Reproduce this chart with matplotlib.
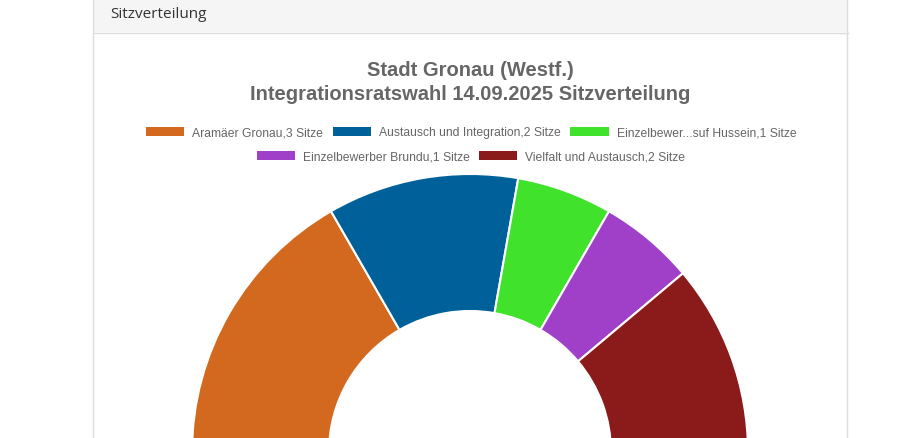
import numpy as np
import matplotlib
matplotlib.use("Agg")
import matplotlib.pyplot as plt
from matplotlib.patches import Rectangle
from matplotlib.lines import Line2D

# ── Daten ─────────────────────────────────────────────────────────────────────
parteien = ["Aramäer Gronau", "Austausch und Integration", "Einzelbewer...suf Hussein",
            "Einzelbewerber Brundu", "Vielfalt und Austausch"]
sitze = [3, 2, 1, 1, 2]
farben = ["#D2691E", "#00609A", "#41E22B", "#A040C8", "#8B1A1A"]
titel = ["Stadt Gronau (Westf.)", "Integrationsratswahl 14.09.2025 Sitzverteilung"]
panel_titel = "Sitzverteilung"

W, H = 920, 438
plt.rcParams["font.family"] = ["Liberation Sans", "DejaVu Sans"]

fig = plt.figure(figsize=(W / 100, H / 100), dpi=100)
ax = fig.add_axes([0, 0, 1, 1])
ax.set_xlim(0, W)
ax.set_ylim(0, H)
ax.axis("off")

# ── Panel ─────────────────────────────────────────────────────────────────────
def py(y):  # Pixel-y von oben -> Datenkoordinate
    return H - y

ax.add_patch(Rectangle((93, py(32)), 755, 40, facecolor="#f5f5f5", edgecolor="none", zorder=0))
ax.add_line(Line2D([93, 848], [py(32.5)] * 2, color="#dddddd", lw=1, zorder=1))
ax.add_line(Line2D([93.5, 93.5], [0, H + 5], color="#dddddd", lw=1, zorder=1))
ax.add_line(Line2D([847.5, 847.5], [0, H + 5], color="#dddddd", lw=1, zorder=1))
ax.text(110, py(14), panel_titel, fontsize=11, color="#333333",
        family=["Open Sans", "DejaVu Sans"], va="center", ha="left")

# ── Titel ─────────────────────────────────────────────────────────────────────
ax.text(470, py(70), titel[0], fontsize=14.5, fontweight="bold", color="#666666",
        ha="center", va="center")
ax.text(470, py(95), titel[1], fontsize=14.5, fontweight="bold", color="#666666",
        ha="center", va="center")

# ── Halb-Donut ────────────────────────────────────────────────────────────────
werte = sitze + [sum(sitze)]
wedges, _ = ax.pie(werte, colors=farben + ["none"], startangle=180, counterclock=False,
                   center=(470, py(452)), radius=278, frame=True,
                   wedgeprops=dict(width=137, edgecolor="white", linewidth=1.5))
wedges[-1].set_edgecolor("none")
ax.set_xlim(0, W)
ax.set_ylim(0, H)
ax.set_aspect("auto")
ax.axis("off")

# ── Legende ───────────────────────────────────────────────────────────────────
labels = [f"{p},{s} Sitze" for p, s in zip(parteien, sitze)]
handles = [Rectangle((0, 0), 1, 1, facecolor=c, edgecolor="none") for c in farben]
leg_kw = dict(frameon=False, fontsize=8.75, labelcolor="#666666", handlelength=3.13,
              handleheight=0.8, handletextpad=0.66, columnspacing=0.82,
              borderpad=0, borderaxespad=0, loc="center")
leg1 = fig.legend(handles[:3], labels[:3], ncol=3,
                  bbox_to_anchor=(471 / W, 1 - 133 / H), **leg_kw)
leg2 = fig.legend(handles[3:], labels[3:], ncol=2,
                  bbox_to_anchor=(471 / W, 1 - 157 / H), **leg_kw)

fig.savefig("out.png", dpi=100, facecolor="white")
plt.close(fig)
